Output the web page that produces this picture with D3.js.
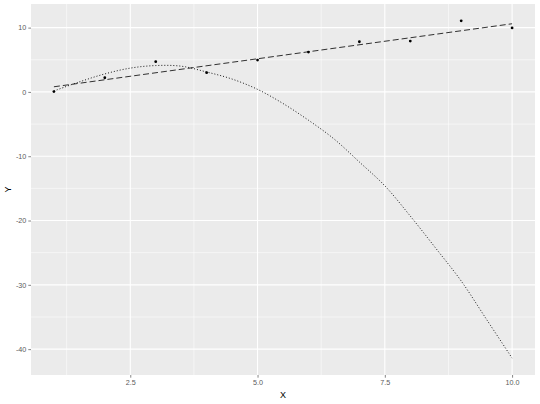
<!DOCTYPE html>
<html><head><meta charset="utf-8">
<script src="https://cdn.jsdelivr.net/npm/d3@7"></script>
<style>body{margin:0;background:#fff}svg{display:block}</style>
</head><body>
<svg id="c" width="540" height="404"></svg>
<script>
const pointX = [1,2,3,4,5,6,7,8,9,10];
const pointY = [0.05,2.2,4.7,3.0,4.95,6.2,7.8,7.9,11.05,9.95];
const lineX = [1,10];
const lineY = [0.8,10.6];
const curveX = [1,1.5,2,2.5,3,3.5,4,4.5,5,5.5,6,6.5,7,7.5,8,8.5,9,9.5,10];
const curveY = [0.15,1.56,2.8,3.7,4.1,4.0,3.1,2.0,0.4,-1.8,-4.4,-7.3,-10.9,-14.6,-19.3,-24.3,-29.4,-35.4,-41.4];
const xTicks = [2.5,5,7.5,10];
const xTickLabels = ["2.5","5.0","7.5","10.0"];
const xMinor = [1.25,3.75,6.25,8.75];
const yTicks = [10,0,-10,-20,-30,-40];
const yTickLabels = ["10","0","-10","-20","-30","-40"];
const yMinor = [5,-5,-15,-25,-35];

const svg = d3.select("#c");
const L = 31, R = 535, T = 4, B = 375;

const xmin = 1, xmax = 10, xe = (xmax-xmin)*0.05;
const x = d3.scaleLinear().domain([xmin-xe, xmax+xe]).range([L, R]);
const ymin = d3.min(curveY), ymax = d3.max(pointY), ye = (ymax-ymin)*0.05;
const y = d3.scaleLinear().domain([ymin-ye, ymax+ye]).range([B, T]);

svg.append("rect").attr("x",L).attr("y",T).attr("width",R-L).attr("height",B-T).attr("fill","#EBEBEB");

const g = svg.append("g");
g.selectAll(".xm").data(xMinor).join("line").attr("x1",d=>x(d)).attr("x2",d=>x(d)).attr("y1",T).attr("y2",B).attr("stroke","#fff").attr("stroke-width",0.55);
g.selectAll(".ym").data(yMinor).join("line").attr("y1",d=>y(d)).attr("y2",d=>y(d)).attr("x1",L).attr("x2",R).attr("stroke","#fff").attr("stroke-width",0.55);
g.selectAll(".xM").data(xTicks).join("line").attr("x1",d=>x(d)).attr("x2",d=>x(d)).attr("y1",T).attr("y2",B).attr("stroke","#fff").attr("stroke-width",1.1);
g.selectAll(".yM").data(yTicks).join("line").attr("y1",d=>y(d)).attr("y2",d=>y(d)).attr("x1",L).attr("x2",R).attr("stroke","#fff").attr("stroke-width",1.1);

// axes
const xAxis = d3.axisBottom(x).tickValues(xTicks).tickFormat((d,i)=>xTickLabels[i]).tickSize(2.7).tickPadding(2);
const yAxis = d3.axisLeft(y).tickValues(yTicks).tickFormat((d,i)=>yTickLabels[i]).tickSize(2.7).tickPadding(2);
const gx = svg.append("g").attr("transform",`translate(0,${B})`).call(xAxis);
const gy = svg.append("g").attr("transform",`translate(${L},0)`).call(yAxis);
[gx,gy].forEach(a=>{
  a.select(".domain").remove();
  a.selectAll(".tick line").attr("stroke","#333").attr("stroke-width",0.6);
  a.selectAll(".tick text").attr("fill","#5a5a5a").style("font-family","Liberation Sans, Arial, sans-serif").style("font-size","7.2px");
});

// lines
const clip = svg.append("clipPath").attr("id","pc").append("rect").attr("x",L).attr("y",T).attr("width",R-L).attr("height",B-T);
const plot = svg.append("g").attr("clip-path","url(#pc)");
const lineGen = d3.line().x(d=>x(d[0])).y(d=>y(d[1]));
plot.append("path").datum(lineX.map((v,i)=>[v,lineY[i]])).attr("d",lineGen)
  .attr("fill","none").attr("stroke","#000").attr("stroke-width",0.8).attr("stroke-dasharray","6,3");
const curveGen = d3.line().x(d=>x(d[0])).y(d=>y(d[1])).curve(d3.curveCatmullRom);
plot.append("path").datum(curveX.map((v,i)=>[v,curveY[i]])).attr("d",curveGen)
  .attr("fill","none").attr("stroke","#000").attr("stroke-width",0.9).attr("stroke-dasharray","1,2");
plot.selectAll("circle").data(pointX.map((v,i)=>[v,pointY[i]])).join("circle")
  .attr("cx",d=>x(d[0])).attr("cy",d=>y(d[1])).attr("r",1.4).attr("fill","#000");

// titles
svg.append("text").attr("x",(L+R)/2).attr("y",398).attr("text-anchor","middle")
  .style("font-family","Liberation Sans, Arial, sans-serif").style("font-size","9px").attr("fill","#000").text("X");
svg.append("text").attr("transform",`translate(11,${(T+B)/2}) rotate(-90)`).attr("text-anchor","middle")
  .style("font-family","Liberation Sans, Arial, sans-serif").style("font-size","9px").attr("fill","#000").text("Y");
</script>
</body></html>
